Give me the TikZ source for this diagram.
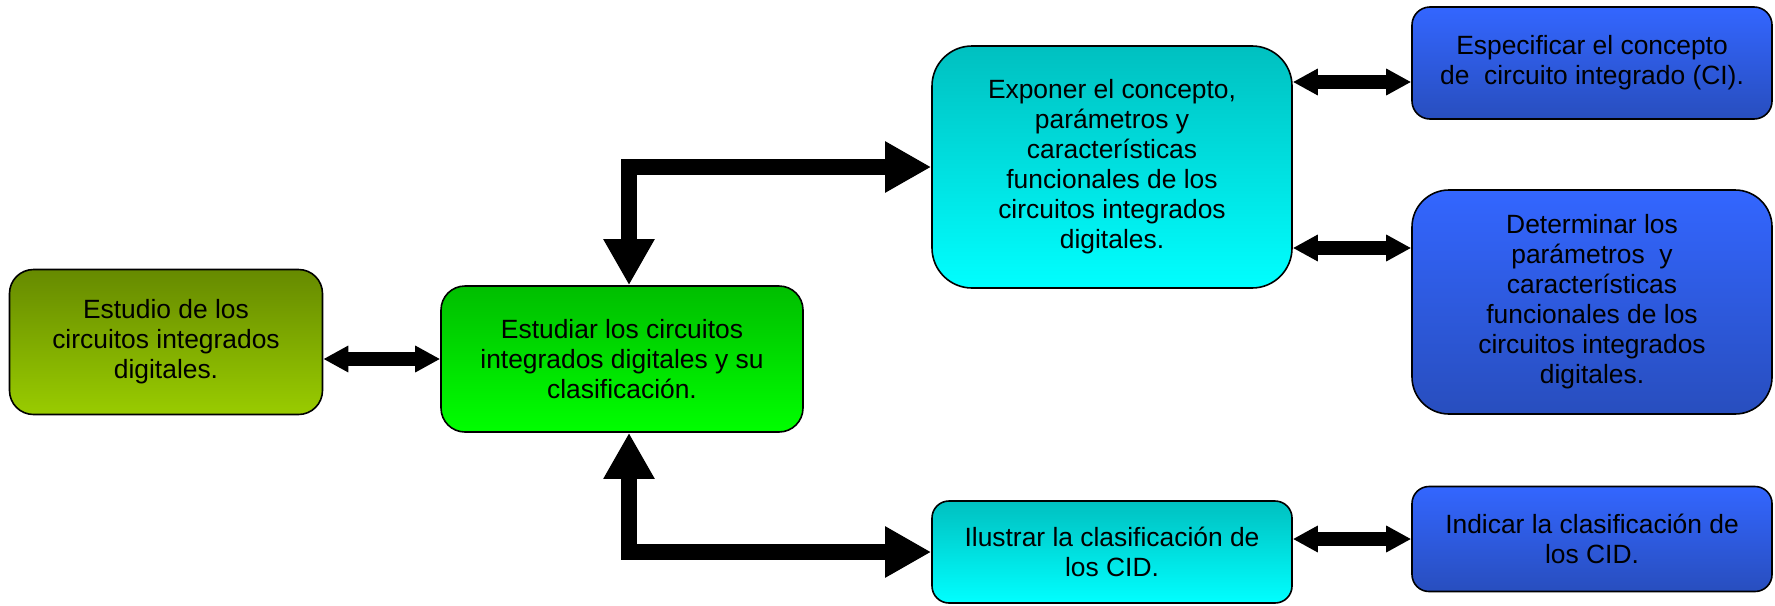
\documentclass[tikz,border=0pt]{standalone}
\usepackage{fontspec}
\setmainfont{Liberation Sans}
\usetikzlibrary{arrows.meta}

\definecolor{olivoA}{RGB}{102,138,0}
\definecolor{olivoB}{RGB}{153,204,0}
\definecolor{verdeA}{RGB}{0,190,0}
\definecolor{verdeB}{RGB}{0,255,0}
\definecolor{cianA}{RGB}{0,192,192}
\definecolor{cianB}{RGB}{0,255,255}
\definecolor{azulA}{RGB}{51,102,255}
\definecolor{azulB}{RGB}{40,78,190}

\tikzset{
  caja/.style={draw=black, line width=0.8pt, align=center, inner sep=0pt,
    font=\fontsize{13.2}{15}\selectfont},
  olivo/.style={caja, top color=olivoA, bottom color=olivoB},
  verde/.style={caja, top color=verdeA, bottom color=verdeB},
  cian/.style={caja, top color=cianA, bottom color=cianB},
  azul/.style={caja, top color=azulA, bottom color=azulB},
  gruesa/.style={line width=8pt, line join=miter, >={Triangle[length=23pt,width=24pt]}, <->},
  fina/.style={line width=7pt, >={Triangle[length=12.5pt,width=12.5pt]}, <->}
}

\begin{document}
\begin{tikzpicture}[x=0.5pt,y=-0.5pt]
        \useasboundingbox (0,0) rectangle (1775,605);
        % cajas
        \node[olivo, minimum width=156.5pt, minimum height=72.5pt, rounded corners=12pt] (est1) at (166,342)
            {Estudio de los\\circuitos integrados\\digitales.};
        \node[verde, minimum width=181pt, minimum height=73pt, rounded corners=12pt] (est2) at (622,359)
            {Estudiar los circuitos\\integrados digitales y su\\clasificaci\'on.};
        \node[cian, minimum width=180pt, minimum height=121pt, rounded corners=20pt] (exp) at (1112,167)
            {Exponer el concepto,\\par\'ametros y\\caracter\'isticas\\funcionales de los\\circuitos integrados\\digitales.};
        \node[cian, minimum width=180pt, minimum height=51pt, rounded corners=8.5pt] (ilu) at (1112,552)
            {Ilustrar la clasificaci\'on de\\los CID.};
        \node[azul, minimum width=180pt, minimum height=56pt, rounded corners=9pt] (spec) at (1592,63)
            {Especificar el concepto\\de\ \ circuito integrado (CI).};
        \node[azul, minimum width=180pt, minimum height=112pt, rounded corners=18.5pt] (det) at (1592,302)
            {Determinar los\\par\'ametros\ \ y\\caracter\'isticas\\funcionales de los\\circuitos integrados\\digitales.};
        \node[azul, minimum width=180pt, minimum height=52.5pt, rounded corners=8.5pt] (ind) at (1592,539)
            {Indicar la clasificaci\'on de\\los CID.};

        % flechas
        \draw[gruesa] ([xshift=3.5pt]est2.north) |- (exp.west);
        \draw[gruesa] ([xshift=3.5pt]est2.south) |- (ilu.west);
        \draw[fina] (est1.east |- est2.west) -- (est2.west);
        \coordinate (a1) at ([yshift=-9.5pt]spec.west);
        \coordinate (a2) at ([yshift=27pt]det.west);
        \draw[fina] (exp.east |- a1) -- (a1);
        \draw[fina] (exp.east |- a2) -- (a2);
        \draw[fina] (ilu.east |- ind.west) -- (ind.west);
    \end{tikzpicture}
\end{document}
